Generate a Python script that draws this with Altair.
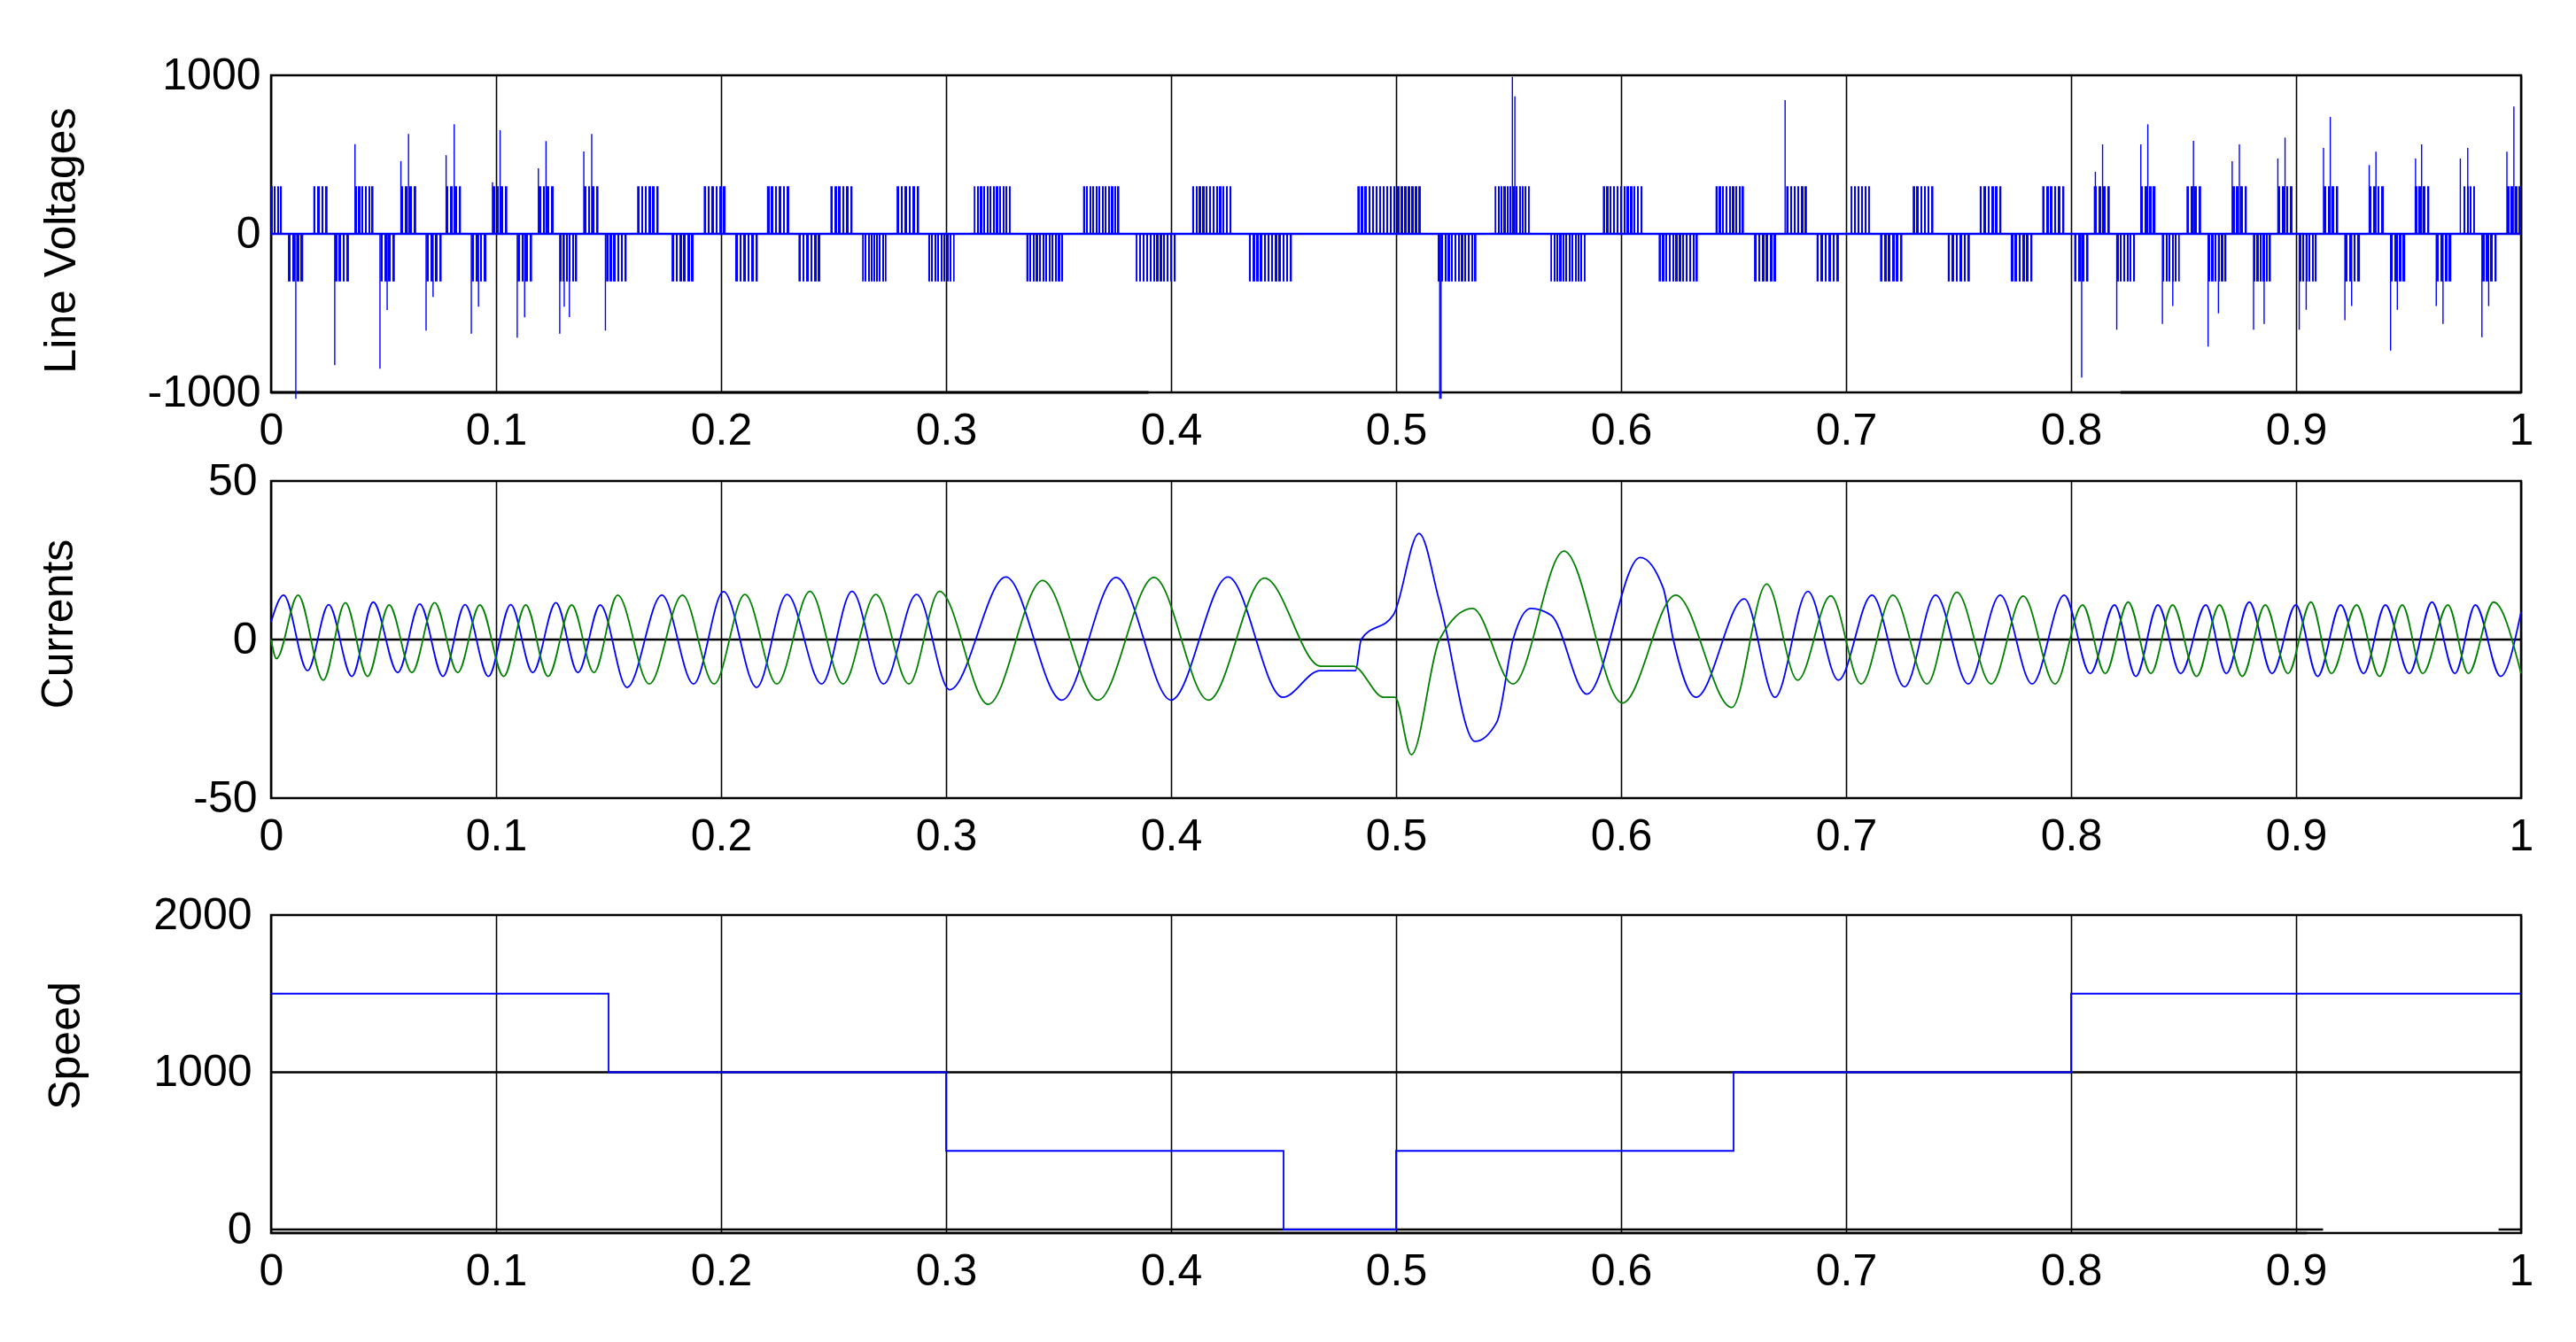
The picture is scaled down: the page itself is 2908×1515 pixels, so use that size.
import altair as alt
import pandas as pd

BLUE = "#0000ff"
GREEN = "#008000"
CLEAR = "rgba(255,255,255,0)"
FONT = "Liberation Sans"
FS = 50

# ---------------- values ----------------
x_ticks = [0, 0.1, 0.2, 0.3, 0.4, 0.5, 0.6, 0.7, 0.8, 0.9, 1]
volt_ticks = [-1000, 0, 1000]
cur_ticks = [-50, 0, 50]
speed_ticks = [0, 1000, 2000]

# Line voltage: PWM pulse groups (start / end time), positive level and negative level
pulse_level = 300
pos_burst_start = [0.000, 0.0188, 0.0373, 0.0577, 0.0778, 0.0984, 0.1188, 0.1390, 0.1627, 0.1923,
                   0.2204, 0.2486, 0.2780, 0.3123, 0.3609, 0.4094, 0.4828, 0.5438, 0.5919, 0.6420,
                   0.6734, 0.7020, 0.7296, 0.7594, 0.7872, 0.8101, 0.8310, 0.8513, 0.8716, 0.8919,
                   0.9122, 0.9325, 0.9527, 0.9744, 0.9937]
pos_burst_end = [0.0048, 0.0251, 0.0455, 0.0645, 0.0844, 0.1050, 0.1256, 0.1455, 0.1722, 0.2020,
                 0.2303, 0.2584, 0.2880, 0.3287, 0.3770, 0.4268, 0.5110, 0.5594, 0.6095, 0.6546,
                 0.6826, 0.7106, 0.7388, 0.7690, 0.7970, 0.8172, 0.8375, 0.8578, 0.8781, 0.8984,
                 0.9187, 0.9390, 0.9592, 0.9795, 1.0]
neg_burst_start = [0.0075, 0.0283, 0.0486, 0.0690, 0.0891, 0.1095, 0.1283, 0.1489, 0.1780, 0.2063,
                   0.2344, 0.2627, 0.2921, 0.3357, 0.3843, 0.4346, 0.5185, 0.5686, 0.6167, 0.6591,
                   0.6869, 0.7151, 0.7452, 0.7732, 0.8014, 0.8203, 0.8406, 0.8609, 0.8811, 0.9014,
                   0.9217, 0.9420, 0.9623, 0.9826]
neg_burst_end = [0.0143, 0.0346, 0.0550, 0.0758, 0.0957, 0.1160, 0.1360, 0.1580, 0.1878, 0.2163,
                 0.2441, 0.2735, 0.3038, 0.3520, 0.4020, 0.4537, 0.5357, 0.5842, 0.6341, 0.6689,
                 0.6968, 0.7250, 0.7550, 0.7828, 0.8077, 0.8284, 0.8483, 0.8690, 0.8888, 0.9091,
                 0.9284, 0.9485, 0.9690, 0.9891]
# switching spikes
spike_t = [0.0373, 0.0577, 0.0611, 0.0778, 0.0814, 0.0984, 0.1018, 0.1188, 0.1222, 0.1390, 0.1425,
           0.5517, 0.5528, 0.6729,
           0.8108, 0.8140, 0.8310, 0.8341, 0.8544, 0.8716, 0.8748, 0.8919, 0.8951, 0.9122, 0.9152,
           0.9325, 0.9355, 0.9531, 0.9558, 0.9730, 0.9763, 0.9937, 0.9968,
           0.0110, 0.0283, 0.0484, 0.0516, 0.0689, 0.0720, 0.0890, 0.0922, 0.1094, 0.1127, 0.1283,
           0.1303, 0.1326, 0.1486, 0.5194, 0.5200,
           0.8047, 0.8203, 0.8406, 0.8452, 0.8609, 0.8655, 0.8811, 0.8858, 0.9014, 0.9045, 0.9217,
           0.9247, 0.9420, 0.9450, 0.9623, 0.9653, 0.9826, 0.9856]
spike_v = [565, 459, 630, 496, 692, 326, 654, 414, 585, 520, 630,
           990, 867, 844,
           391, 564, 564, 691, 587, 458, 564, 475, 607, 542, 737,
           434, 518, 475, 564, 475, 542, 518, 803,
           -1040, -828, -850, -480, -610, -398, -630, -460, -655, -526, -630,
           -460, -525, -610, -1040, -1040,
           -907, -605, -568, -456, -711, -501, -605, -568, -605, -479, -544,
           -456, -736, -479, -456, -568, -652, -456]
volt_zero = [0]
volt_black_t0 = [0.0, 0.822]
volt_black_t1 = [0.39, 1.0]
volt_black_v = [-1000, -1000]

# Currents: turning points of the two phase currents
cur_a_t = [0.0, 0.0056, 0.0162, 0.0256, 0.0359, 0.0454, 0.0563, 0.0661, 0.0764, 0.0862, 0.0966,
           0.1065, 0.1163, 0.1266, 0.1364, 0.1463, 0.1582, 0.1737, 0.1878, 0.2011, 0.2158,
           0.2293, 0.2447, 0.2582, 0.2722, 0.2869, 0.3016, 0.3266, 0.3514, 0.3756, 0.4000,
           0.4253, 0.4496, 0.4662, 0.4820, 0.4845, 0.4989, 0.5102, 0.5193, 0.5351, 0.5448,
           0.5520, 0.5599, 0.5690, 0.5848, 0.6085, 0.6187, 0.6232, 0.6333, 0.6548, 0.6684,
           0.6830, 0.6966, 0.7115, 0.7260, 0.7398, 0.7543, 0.7685, 0.7827, 0.7970, 0.8085,
           0.8193, 0.8288, 0.8386, 0.8487, 0.8599, 0.8690, 0.8792, 0.8893, 0.8999, 0.9096,
           0.9198, 0.9300, 0.9397, 0.9503, 0.9604, 0.9706, 0.9797, 0.9909, 1.0]
cur_a_v = [5.6, 14, -9.8, 11, -11.6, 11.8, -10.4, 11.2, -11.6, 11, -11.6,
           11, -10.4, 11.6, -10.4, 10.9, -15.1, 14, -14, 15.1, -15.1,
           14.2, -14, 15.2, -14, 14.2, -15.8, 19.7, -19.1, 19.6, -19.1,
           19.7, -18.2, -9.8, -9.8, 0, 7.9, 33.5, 12, -32.1, -26,
           0, 9.8, 7.6, -17.2, 25.9, 16.3, 0, -18.2, 12.8, -18.2,
           15.2, -12.8, 14, -14.9, 14, -14, 14, -14, 14, -10.7,
           10.9, -11.6, 10.9, -10.7, 10.9, -10.7, 11.8, -10.7, 10.9, -11.6,
           10.9, -10.7, 10.9, -10.7, 11.8, -10.7, 10.9, -11.6, 8.7]
cur_b_t = [0.0, 0.0024, 0.0120, 0.0232, 0.0330, 0.0429, 0.0525, 0.0626, 0.0727, 0.0830, 0.0928,
           0.1034, 0.1132, 0.1231, 0.1336, 0.1435, 0.1540, 0.1681, 0.1828, 0.1969, 0.2106,
           0.2248, 0.2395, 0.2542, 0.2688, 0.2835, 0.2971, 0.3187, 0.3429, 0.3675, 0.3924,
           0.4166, 0.4415, 0.4665, 0.4809, 0.4945, 0.4995, 0.5068, 0.5193, 0.5340, 0.5520,
           0.5746, 0.6006, 0.6243, 0.6492, 0.6647, 0.6785, 0.6932, 0.7067, 0.7208, 0.7360,
           0.7492, 0.7645, 0.7787, 0.7929, 0.8051, 0.8152, 0.8254, 0.8355, 0.8451, 0.8558,
           0.8660, 0.8761, 0.8863, 0.8964, 0.9066, 0.9157, 0.9269, 0.9371, 0.9472, 0.9563,
           0.9675, 0.9766, 0.9878, 1.0]
cur_b_v = [0, -6, 14, -12.8, 11.6, -11.6, 10.9, -10.4, 11.6, -10.4, 10.9,
           -11.6, 10.9, -11.6, 10.9, -10.4, 14, -14, 14, -14, 14.2,
           -14, 15.2, -14, 14.2, -14, 15.2, -20.4, 18.6, -19.1, 19.6,
           -19.1, 19.4, -8.4, -8.4, -18.2, -18.2, -36.3, 0, 9.8, -14,
           27.9, -20, 14, -21.4, 17.5, -12.8, 13.8, -14, 14, -14,
           14.9, -14, 13.7, -14, 10.9, -10.7, 11.8, -10.7, 10.9, -11.6,
           10.9, -11.6, 10.9, -10.7, 11.8, -10.7, 10.9, -11.6, 10.9, -10.7,
           10.9, -10.7, 11.8, -10.7]
cur_grid = [0]

# Speed reference (step changes)
speed_t = [0.0, 0.15, 0.30, 0.45, 0.50, 0.65, 0.80, 1.0]
speed_v = [1500, 1000, 500, 0, 500, 1000, 1500, 1500]
speed_grid = [1000]
speed_black_t0 = [0.0, 0.99, 0.0]
speed_black_t1 = [0.912, 1.0, 0.905]
speed_black_v = [0, 0, -22]

# ---------------- helpers (styling only) ----------------
def stripes(n, ratio=1.5):
    # n blue stripes separated by n-1 clear gaps; blue stripes are `ratio` times wider than gaps
    gap = 1.0 / (ratio * n + (n - 1))
    bar = ratio * gap
    stops = []
    pos = 0.0
    for i in range(2 * n - 1):
        c = BLUE if i % 2 == 0 else CLEAR
        w = bar if i % 2 == 0 else gap
        stops.append({"offset": round(min(1.0, pos), 6), "color": c})
        pos += w
        stops.append({"offset": round(min(1.0, pos), 6), "color": c})
    return {"gradient": "linear", "x1": 0, "x2": 1, "y1": 0, "y2": 0, "stops": stops}


x_scale = alt.Scale(domain=[0, 1], nice=False, zero=False)


def x_axis():
    return alt.Axis(values=x_ticks, grid=True, gridColor="black", gridWidth=1.6,
                    domain=False, ticks=False, tickSize=0, labelPadding=18,
                    labelFont=FONT, labelFontSize=FS, labelColor="black",
                    labelFlush=False, labelOverlap=False, labelExpr="'' + datum.value",
                    title=None)


def y_axis(values, title, pad, tx, ty):
    return alt.Axis(values=values, grid=False, domain=False, ticks=False, tickSize=0,
                    labelPadding=pad, labelFont=FONT, labelFontSize=FS, labelColor="black",
                    labelFlush=False, labelOverlap=False, labelExpr="'' + datum.value",
                    title=title, titleFont=FONT, titleFontSize=FS, titleFontWeight="normal",
                    titleColor="black", titleAngle=270, titleAlign="center",
                    titleBaseline="alphabetic", titleX=tx, titleY=ty)


W = 2540

# ---------------- panel 1: line voltages ----------------
vs = alt.Scale(domain=[-1000, 1000], nice=False, zero=False)
ya1 = y_axis(volt_ticks, "Line Voltages", 12, -222, 186)
xa1 = x_axis()

bursts_df = pd.DataFrame({
    "t0": pos_burst_start + neg_burst_start,
    "t1": pos_burst_end + neg_burst_end,
    "lvl": [pulse_level] * len(pos_burst_start) + [-pulse_level] * len(neg_burst_start),
})
spikes_df = pd.DataFrame({"t": spike_t, "v": spike_v})
vzero_df = pd.DataFrame({"v": volt_zero})
vblack_df = pd.DataFrame({"t0": volt_black_t0, "t1": volt_black_t1, "v": volt_black_v})

layers1 = [
    alt.Chart(vblack_df).mark_rule(color="black", strokeWidth=3).encode(
        x=alt.X("t0:Q", scale=x_scale, axis=xa1), x2="t1:Q",
        y=alt.Y("v:Q", scale=vs, axis=ya1)),
]
burst_classes = [(0.0, 0.0072, 4), (0.0072, 0.0105, 6), (0.0105, 0.015, 9),
                 (0.015, 0.022, 12), (0.022, 1.0, 18)]
base_b = alt.Chart(bursts_df).transform_calculate(w="datum.t1 - datum.t0")
for lo, hi, n in burst_classes:
    layers1.append(
        base_b.transform_filter(f"datum.w >= {lo} && datum.w < {hi}")
        .mark_rect(fill=stripes(n))
        .encode(x=alt.X("t0:Q", scale=x_scale, axis=xa1), x2="t1:Q",
                y=alt.Y("lvl:Q", scale=vs, axis=ya1), y2=alt.datum(0))
    )
layers1.append(
    alt.Chart(spikes_df).mark_rule(color=BLUE, strokeWidth=1.4).encode(
        x=alt.X("t:Q", scale=x_scale, axis=xa1),
        y=alt.Y("v:Q", scale=vs, axis=ya1), y2=alt.datum(0))
)
layers1.append(
    alt.Chart(vzero_df).mark_rule(color=BLUE, strokeWidth=2.5).encode(
        y=alt.Y("v:Q", scale=vs, axis=ya1))
)
top = alt.layer(*layers1).properties(width=W, height=358)

# ---------------- panel 2: currents ----------------
cs = alt.Scale(domain=[-50, 50], nice=False, zero=False)
ya2 = y_axis(cur_ticks, "Currents", 16, -225, 161)
xa2 = x_axis()
ia_df = pd.DataFrame({"t": cur_a_t, "i": cur_a_v})
ib_df = pd.DataFrame({"t": cur_b_t, "i": cur_b_v})
cgrid_df = pd.DataFrame({"i": cur_grid})

mid = alt.layer(
    alt.Chart(cgrid_df).mark_rule(color="black", strokeWidth=2.5).encode(
        y=alt.Y("i:Q", scale=cs, axis=ya2)),
    alt.Chart(ia_df).mark_line(color=BLUE, strokeWidth=1.8, interpolate="monotone").encode(
        x=alt.X("t:Q", scale=x_scale, axis=xa2), y=alt.Y("i:Q", scale=cs, axis=ya2)),
    alt.Chart(ib_df).mark_line(color=GREEN, strokeWidth=1.8, interpolate="monotone").encode(
        x=alt.X("t:Q", scale=x_scale, axis=xa2), y=alt.Y("i:Q", scale=cs, axis=ya2)),
).properties(width=W, height=358)

# ---------------- panel 3: speed ----------------
ss = alt.Scale(domain=[-22.5, 2000], nice=False, zero=False)
ya3 = y_axis(speed_ticks, "Speed", 22, -217, 147)
xa3 = x_axis()
speed_df = pd.DataFrame({"t": speed_t, "s": speed_v})
sgrid_df = pd.DataFrame({"s": speed_grid})
sblack_df = pd.DataFrame({"t0": speed_black_t0, "t1": speed_black_t1, "s": speed_black_v})

bot = alt.layer(
    alt.Chart(sgrid_df).mark_rule(color="black", strokeWidth=2.5).encode(
        y=alt.Y("s:Q", scale=ss, axis=ya3)),
    alt.Chart(sblack_df).mark_rule(color="black", strokeWidth=2.5).encode(
        x=alt.X("t0:Q", scale=x_scale, axis=xa3), x2="t1:Q",
        y=alt.Y("s:Q", scale=ss, axis=ya3)),
    alt.Chart(speed_df).mark_line(color=BLUE, strokeWidth=1.8, interpolate="step-after").encode(
        x=alt.X("t:Q", scale=x_scale, axis=xa3), y=alt.Y("s:Q", scale=ss, axis=ya3)),
).properties(width=W, height=359)

chart = alt.vconcat(
    alt.vconcat(top, mid, spacing=3),
    bot,
    spacing=35,
).properties(
    padding={"left": 31, "top": 50, "right": 5, "bottom": 5},
    background="white",
).configure_view(stroke="black", strokeWidth=2.5)

chart.save("out.html", embed_options={"renderer": "svg", "actions": False})
